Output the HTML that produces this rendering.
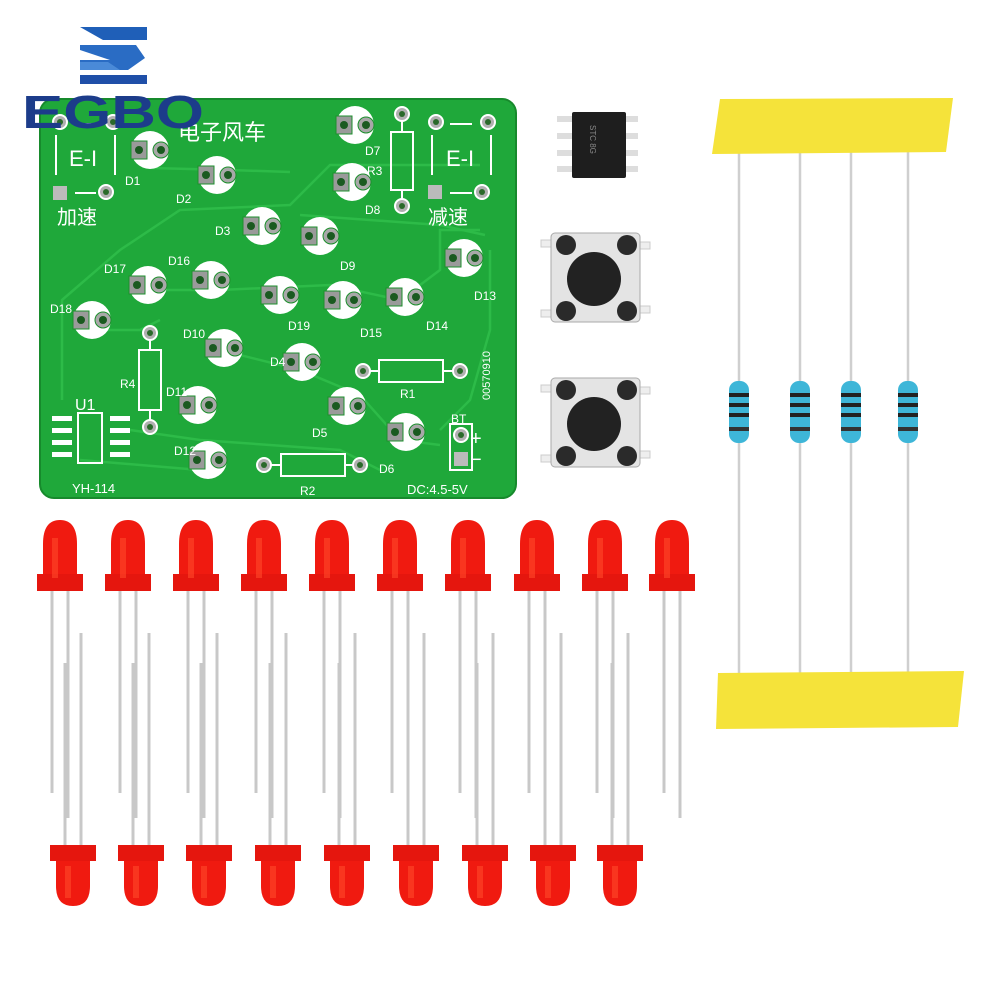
<!DOCTYPE html>
<html><head><meta charset="utf-8"><style>
html,body{margin:0;padding:0;background:#fff;}
svg{display:block;}
text{font-family:"Liberation Sans","Noto Sans CJK SC",sans-serif;}
</style></head><body>
<svg width="1000" height="1000" viewBox="0 0 1000 1000" xmlns="http://www.w3.org/2000/svg">
<defs>
<g id="fp">
<circle r="19" fill="#fff"/>
<rect x="-19" y="-9" width="16" height="18" fill="#9a9a9a" stroke="#1c8f2c" stroke-width="1"/>
<circle cx="-11" cy="0" r="4" fill="#1a5a20"/>
<circle cx="11" cy="0" r="8" fill="#a8a8a8" stroke="#1c8f2c" stroke-width="1"/>
<circle cx="11" cy="0" r="4" fill="#1a5a20"/>
</g>
<g id="pad"><circle r="7" fill="#b0b0b0" stroke="#fff" stroke-width="2"/><circle r="3" fill="#2a6a2a"/></g>
<g id="ledT">
<line x1="-8" y1="50" x2="-8" y2="255" stroke="#c8c8c8" stroke-width="3"/>
<line x1="8" y1="50" x2="8" y2="280" stroke="#c8c8c8" stroke-width="3"/>
<path d="M-17,50 L-17,6 Q-17,-18 0,-18 Q17,-18 17,6 L17,50 Z" fill="#f01a10"/>
<rect x="-23" y="36" width="46" height="17" fill="#e5160e"/>
<rect x="-8" y="0" width="6" height="40" fill="#ff4a2a" opacity=".6"/>
</g>
<g id="ledB">
<line x1="-8" y1="-30" x2="-8" y2="-215" stroke="#c8c8c8" stroke-width="3"/>
<line x1="8" y1="-30" x2="8" y2="-245" stroke="#c8c8c8" stroke-width="3"/>
<path d="M-17,-30 L-17,8 Q-17,28 0,28 Q17,28 17,8 L17,-30 Z" fill="#f01a10"/>
<rect x="-23" y="-33" width="46" height="16" fill="#e5160e"/>
<rect x="-8" y="-12" width="6" height="32" fill="#ff4a2a" opacity=".6"/>
</g>
<g id="res">
<rect x="-10" y="0" width="20" height="62" rx="9" fill="#3eb6d8"/>
<rect x="-10" y="12" width="20" height="4" fill="#222"/>
<rect x="-10" y="22" width="20" height="4" fill="#222"/>
<rect x="-10" y="32" width="20" height="4" fill="#222"/>
<rect x="-10" y="46" width="20" height="4" fill="#333"/>
</g>
</defs>

<!-- Logo -->
<polygon points="80,27 147,27 147,40 103,40" fill="#1f5fb8"/>
<polygon points="80,45 136,45 145,58 128,70 80,70 80,60 110,60 80,50" fill="#2a6cc4"/>
<polygon points="80,75 147,75 147,84 80,84" fill="#1f4fa8"/>
<polygon points="80,62 108,62 120,70 80,70" fill="#4a8ad8"/>

<!-- PCB -->
<rect x="40" y="99" width="476" height="399" rx="14" fill="#1fa83a" stroke="#178a2c" stroke-width="2"/>
<g fill="none" stroke="#2dbb48" stroke-width="2.5">
<path d="M62,400 L62,300 L120,250 L180,210 L290,205 L330,165 L480,165"/>
<path d="M150,168 L230,170 L290,172"/>
<path d="M160,290 L220,290 L330,285 L400,300 L440,270 L440,230 L480,230"/>
<path d="M100,330 L140,330 L160,320"/>
<path d="M130,430 L200,440 L340,450 L380,470"/>
<path d="M220,350 L300,370 L360,395 L400,440 L440,445"/>
<path d="M490,250 L490,330 L470,400 L440,430"/>
<path d="M80,460 L200,470"/>
<path d="M300,215 L440,225 L485,235"/>
</g>
<text x="178" y="140" font-size="22" fill="#fff">电子风车</text>
<text x="57" y="224" font-size="20" fill="#fff">加速</text>
<text x="428" y="224" font-size="20" fill="#fff">减速</text>
<g stroke="#fff" stroke-width="2" fill="none">
<line x1="56" y1="135" x2="56" y2="175"/><line x1="115" y1="135" x2="115" y2="175"/>
<line x1="75" y1="124" x2="96" y2="124"/><line x1="75" y1="193" x2="96" y2="193"/>
<line x1="432" y1="135" x2="432" y2="175"/><line x1="491" y1="135" x2="491" y2="175"/>
<line x1="450" y1="124" x2="472" y2="124"/><line x1="450" y1="193" x2="472" y2="193"/>
</g>
<text x="69" y="166" font-size="22" fill="#fff">E-I</text>
<text x="446" y="166" font-size="22" fill="#fff">E-I</text>
<use href="#pad" x="60" y="122"/><use href="#pad" x="113" y="122"/>
<rect x="53" y="186" width="14" height="14" fill="#bbb"/><use href="#pad" x="106" y="192"/>
<use href="#pad" x="436" y="122"/><use href="#pad" x="488" y="122"/>
<rect x="428" y="185" width="14" height="14" fill="#bbb"/><use href="#pad" x="482" y="192"/>

<g stroke="#fff" stroke-width="2" fill="none">
<rect x="391" y="132" width="22" height="58"/><line x1="402" y1="118" x2="402" y2="132"/><line x1="402" y1="190" x2="402" y2="203"/>
<rect x="139" y="350" width="22" height="60"/><line x1="150" y1="335" x2="150" y2="350"/><line x1="150" y1="410" x2="150" y2="425"/>
<rect x="379" y="360" width="64" height="22"/><line x1="365" y1="371" x2="379" y2="371"/><line x1="443" y1="371" x2="458" y2="371"/>
<rect x="281" y="454" width="64" height="22"/><line x1="266" y1="465" x2="281" y2="465"/><line x1="345" y1="465" x2="358" y2="465"/>
</g>
<use href="#pad" x="402" y="114"/><use href="#pad" x="402" y="206"/>
<use href="#pad" x="150" y="333"/><use href="#pad" x="150" y="427"/>
<use href="#pad" x="363" y="371"/><use href="#pad" x="460" y="371"/>
<use href="#pad" x="264" y="465"/><use href="#pad" x="360" y="465"/>

<use href="#fp" x="150" y="150"/><use href="#fp" x="217" y="175"/>
<use href="#fp" x="355" y="125"/><use href="#fp" x="352" y="182"/>
<use href="#fp" x="262" y="226"/><use href="#fp" x="320" y="236"/>
<use href="#fp" x="148" y="285"/><use href="#fp" x="211" y="280"/>
<use href="#fp" x="280" y="295"/><use href="#fp" x="343" y="300"/>
<use href="#fp" x="405" y="297"/><use href="#fp" x="464" y="258"/>
<use href="#fp" x="92" y="320"/><use href="#fp" x="224" y="348"/>
<use href="#fp" x="302" y="362"/><use href="#fp" x="198" y="405"/>
<use href="#fp" x="347" y="406"/><use href="#fp" x="406" y="432"/>
<use href="#fp" x="208" y="460"/>

<g fill="#fff" font-size="12">
<text x="125" y="185">D1</text><text x="176" y="203">D2</text>
<text x="365" y="155">D7</text><text x="367" y="175">R3</text><text x="365" y="214">D8</text>
<text x="215" y="235">D3</text><text x="340" y="270">D9</text>
<text x="104" y="273">D17</text><text x="168" y="265">D16</text>
<text x="50" y="313">D18</text><text x="288" y="330">D19</text><text x="360" y="337">D15</text>
<text x="426" y="330">D14</text><text x="474" y="300">D13</text>
<text x="183" y="338">D10</text><text x="270" y="366">D4</text><text x="400" y="398">R1</text>
<text x="120" y="388">R4</text><text x="166" y="396">D11</text><text x="312" y="437">D5</text>
<text x="174" y="455">D12</text><text x="379" y="473">D6</text><text x="300" y="495">R2</text>
<text x="451" y="423">BT</text>
<text x="407" y="494" font-size="13">DC:4.5-5V</text>
<text x="72" y="493" font-size="13">YH-114</text>
<text x="75" y="410" font-size="16">U1</text>
<text x="470" y="445" font-size="20">+</text><text x="470" y="466" font-size="20">−</text>
<text transform="translate(490,400) rotate(-90)" font-size="11">00570910</text>
</g>
<g stroke="#fff" stroke-width="2" fill="none"><rect x="78" y="413" width="24" height="50"/></g>
<g fill="#fff"><rect x="52" y="416" width="20" height="5"/><rect x="52" y="428" width="20" height="5"/><rect x="52" y="440" width="20" height="5"/><rect x="52" y="452" width="20" height="5"/>
<rect x="110" y="416" width="20" height="5"/><rect x="110" y="428" width="20" height="5"/><rect x="110" y="440" width="20" height="5"/><rect x="110" y="452" width="20" height="5"/></g>
<rect x="450" y="424" width="22" height="46" fill="none" stroke="#fff" stroke-width="2"/>
<use href="#pad" x="461" y="435"/><rect x="454" y="452" width="14" height="14" fill="#bbb"/>

<text x="22" y="128" font-size="46" font-weight="bold" fill="#1c3c8a" textLength="182" lengthAdjust="spacingAndGlyphs">EGBO</text>

<g fill="#ddd"><rect x="557" y="116" width="16" height="6"/><rect x="557" y="133" width="16" height="6"/><rect x="557" y="150" width="16" height="6"/><rect x="557" y="166" width="16" height="6"/>
<rect x="624" y="116" width="14" height="6"/><rect x="624" y="133" width="14" height="6"/><rect x="624" y="150" width="14" height="6"/><rect x="624" y="166" width="14" height="6"/></g>
<rect x="572" y="112" width="54" height="66" rx="2" fill="#1e1e1e"/>
<text transform="translate(590,125) rotate(90)" font-size="8" fill="#888">STC 8G</text>

<g id="btn">
<rect x="541" y="240" width="12" height="7" fill="#eee" stroke="#ccc"/><rect x="541" y="310" width="12" height="7" fill="#eee" stroke="#ccc"/>
<rect x="638" y="242" width="12" height="7" fill="#eee" stroke="#ccc"/><rect x="638" y="306" width="12" height="7" fill="#eee" stroke="#ccc"/>
<rect x="551" y="233" width="89" height="89" rx="4" fill="#e4e4e4" stroke="#aaa"/>
<circle cx="594" cy="279" r="27" fill="#222"/>
<circle cx="566" cy="245" r="10" fill="#2a2a2a"/><circle cx="627" cy="245" r="10" fill="#2a2a2a"/>
<circle cx="566" cy="311" r="10" fill="#2a2a2a"/><circle cx="627" cy="311" r="10" fill="#2a2a2a"/>
</g>
<use href="#btn" x="0" y="145"/>

<g stroke="#cfcfcf" stroke-width="2.5">
<line x1="739" y1="150" x2="739" y2="675"/><line x1="800" y1="150" x2="800" y2="675"/>
<line x1="851" y1="150" x2="851" y2="675"/><line x1="908" y1="150" x2="908" y2="675"/>
</g>
<polygon points="720,99 953,98 946,152 712,154" fill="#f5e33a"/>
<polygon points="718,673 964,671 958,727 716,729" fill="#f5e33a"/>
<use href="#res" x="739" y="381"/><use href="#res" x="800" y="381"/>
<use href="#res" x="851" y="381"/><use href="#res" x="908" y="381"/>

<use href="#ledT" x="60" y="538"/><use href="#ledT" x="128" y="538"/><use href="#ledT" x="196" y="538"/>
<use href="#ledT" x="264" y="538"/><use href="#ledT" x="332" y="538"/><use href="#ledT" x="400" y="538"/>
<use href="#ledT" x="468" y="538"/><use href="#ledT" x="537" y="538"/><use href="#ledT" x="605" y="538"/>
<use href="#ledT" x="672" y="538"/>
<use href="#ledB" x="73" y="878"/><use href="#ledB" x="141" y="878"/><use href="#ledB" x="209" y="878"/>
<use href="#ledB" x="278" y="878"/><use href="#ledB" x="347" y="878"/><use href="#ledB" x="416" y="878"/>
<use href="#ledB" x="485" y="878"/><use href="#ledB" x="553" y="878"/><use href="#ledB" x="620" y="878"/>
</svg>
</body></html>
